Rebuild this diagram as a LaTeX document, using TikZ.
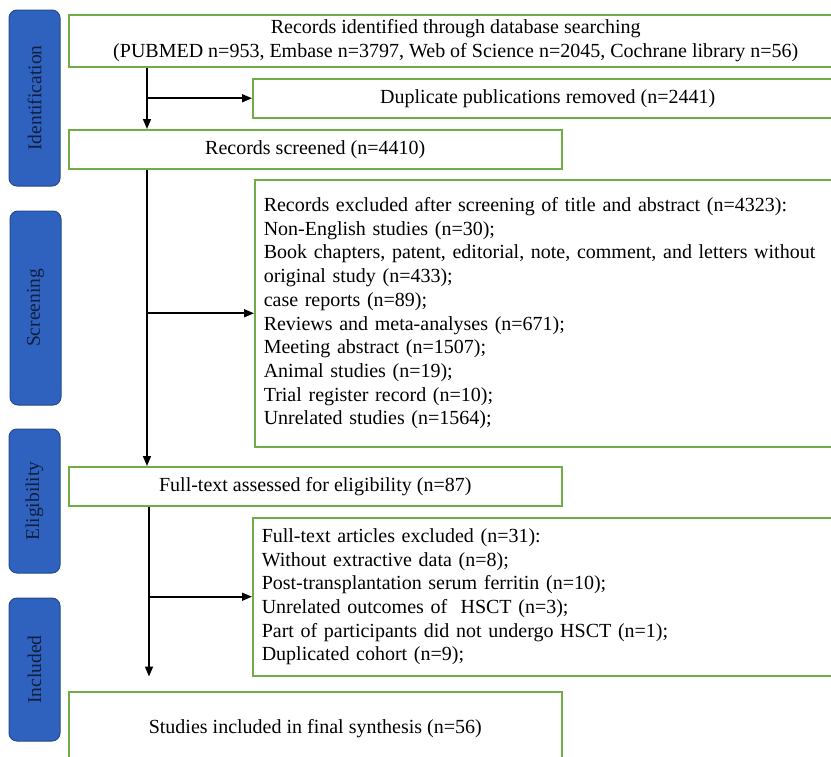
\documentclass[tikz,border=0pt]{standalone}
\usepackage{fontspec}
\setmainfont{Liberation Serif}
\usetikzlibrary{arrows.meta}
\definecolor{boxgreen}{RGB}{112,173,71}
\definecolor{tabblue}{RGB}{47,98,190}
\definecolor{tabedge}{RGB}{36,74,140}
\definecolor{tabtext}{RGB}{18,30,62}

\begin{document}
\begin{tikzpicture}[x=1pt,y=-1pt]
\tikzset{box/.style={draw=boxgreen,line width=1.5pt,anchor=north west,inner xsep=9pt,inner ysep=0pt,
    font=\fontsize{20}{23.7}\selectfont},
  stage/.style={draw=tabedge,fill=tabblue,rounded corners=8pt,line width=1pt,rotate=90,
    minimum height=51pt,text=tabtext,font=\fontsize{19.5}{22}\selectfont},
  flow/.style={line width=1.6pt,-{Triangle[length=10pt,width=8pt]}}}
\useasboundingbox (0,0) rectangle (831,756);
\clip (0,0) rectangle (831,756);

\node[stage,minimum width=176pt] (tabid) at (34.5,98) {Identification};
\node[stage,minimum width=194pt] (tabscr) at (35.5,308) {Screening};
\node[stage,minimum width=144pt] (tabelig) at (34.5,501) {Eligibility};
\node[stage,minimum width=143pt] (tabincl) at (34.5,669.5) {Included};

\node[box,minimum width=774pt,minimum height=52pt,align=center] (ident) at (68,14)
    {Records identified through database searching\\
     (PUBMED n=953, Embase n=3797, Web of Science n=2045, Cochrane library n=56)};
\node[box,minimum width=590pt,minimum height=39pt] (dup) at (252,78)
    {Duplicate publications removed (n=2441)};
\node[box,minimum width=493pt,minimum height=39pt] (screened) at (68,129)
    {Records screened (n=4410)};
\node[box,minimum width=588pt,minimum height=267pt,text width=570pt,align=left] (excl) at (254,179)
    {Records excluded after screening of title and abstract (n=4323):\\
     Non-English studies (n=30);\\
     Book chapters, patent, editorial, note, comment, and letters without\\
     original study (n=433);\\
     case reports (n=89);\\
     Reviews and meta-analyses (n=671);\\
     Meeting abstract (n=1507);\\
     Animal studies (n=19);\\
     Trial register record (n=10);\\
     Unrelated studies (n=1564);};
\node[box,minimum width=493pt,minimum height=39pt] (fulltext) at (68,466)
    {Full-text assessed for eligibility (n=87)};
\node[box,minimum width=590pt,minimum height=158pt,text width=572pt,align=left] (exclft) at (252,517)
    {Full-text articles excluded (n=31):\\
     Without extractive data (n=8);\\
     Post-transplantation serum ferritin (n=10);\\
     Unrelated outcomes of~ HSCT (n=3);\\
     Part of participants did not undergo HSCT (n=1);\\
     Duplicated cohort (n=9);};
\node[box,minimum width=493pt,minimum height=74pt] (final) at (68,691)
    {Studies included in final synthesis (n=56)};

% trunk lines with side branches
\coordinate (trunka) at ([xshift=79pt]ident.south west);
\coordinate (trunkb) at ([xshift=79pt]screened.south west);
\coordinate (trunkc) at ([xshift=81pt]fulltext.south west);
\coordinate (trunkend) at (trunkc |- exclft.south);
\draw[flow] (trunka) -- (trunka |- screened.north);
\draw[flow] (trunka |- dup.west) -- (dup.west);
\draw[flow] (trunkb) -- (trunkb |- fulltext.north);
\draw[flow] (trunkb |- excl.west) -- (excl.west);
\draw[flow] (trunkc) -- (trunkend);
\draw[flow] (trunkc |- exclft.west) -- (exclft.west);

\end{tikzpicture}
\end{document}
